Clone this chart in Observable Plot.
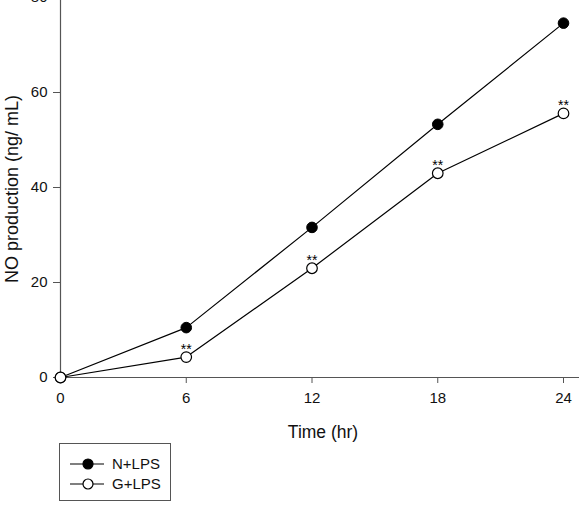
<!DOCTYPE html>
<html>
<head>
<meta charset="utf-8">
<script src="https://cdn.jsdelivr.net/npm/d3@7"></script>
<script src="https://cdn.jsdelivr.net/npm/@observablehq/plot@0.6"></script>
<style>
  html, body { margin: 0; padding: 0; background: white; }
  #wrap { position: relative; width: 579px; height: 507px; font-family: "Liberation Sans", Arial, sans-serif; }
  #legend { position: absolute; left: 59px; top: 443px; width: 110px; height: 56px; border: 1px solid #555; background: white; }
  .row { position: absolute; left: 0; height: 20px; width: 110px; }
  .row svg { position: absolute; left: 0; top: 0; }
  .row span { position: absolute; left: 52px; top: 1px; font-size: 15px; color: #111; line-height: 18px; }
</style>
</head>
<body>
<div id="wrap"><div id="chart"></div><div id="legend"></div></div>
<script>
// Data
const times = [0, 6, 12, 18, 24];
const nLps = [0, 10.5, 31.6, 53.3, 74.6];
const gLps = [0, 4.3, 23.0, 43.0, 55.6];
const nErr = [0, 0.5, 0.6, 0.5, 0.9];
const gErr = [0, 0.5, 0.6, 0.5, 0.6];
const gStars = ["", "**", "**", "**", "**"];
const seriesNames = ["N+LPS", "G+LPS"];
const seriesFill = ["black", "white"];
const xTicks = [0, 6, 12, 18, 24];
const yTicks = [0, 20, 40, 60, 80];

const nData = times.map((t, i) => ({t, v: nLps[i], e: nErr[i]}));
const gData = times.map((t, i) => ({t, v: gLps[i], e: gErr[i], s: gStars[i]}));

const plot = Plot.plot({
  width: 579,
  height: 443,
  marginLeft: 60,
  marginRight: 0,
  marginTop: 0,
  marginBottom: 66,
  x: {domain: [0, 24], range: [60, 563]},
  y: {domain: [0, 80], range: [377, -3]},
  style: {fontFamily: "'Liberation Sans', Arial, sans-serif", fontSize: "15px", background: "white", color: "#111"},
  marks: [
    Plot.ruleY([0], {stroke: "#555", strokeWidth: 1.2}),
    Plot.ruleX([0], {stroke: "#555", strokeWidth: 1.2}),
    Plot.axisY({ticks: yTicks, tickSize: 7, tickPadding: 6, label: null, stroke: "#555", fontSize: 15}),
    Plot.axisX({ticks: xTicks, tickSize: 6, tickPadding: 9, label: null, stroke: "#555", fontSize: 15}),
    Plot.text(["Time (hr)"], {frameAnchor: "bottom", textAnchor: "middle", lineAnchor: "middle", dx: 3, dy: 55, fontSize: 17.5, fill: "#111"}),
    Plot.text(["NO production (ng/ mL)"], {frameAnchor: "left", textAnchor: "middle", lineAnchor: "middle", rotate: -90, dx: -48, fontSize: 18, fill: "#111"}),
    Plot.line(nData, {x: "t", y: "v", stroke: "black", strokeWidth: 1.2}),
    Plot.line(gData, {x: "t", y: "v", stroke: "black", strokeWidth: 1.2}),
    Plot.ruleX(nData, {x: "t", y1: d => d.v - d.e, y2: d => d.v + d.e, stroke: "black"}),
    Plot.ruleX(gData, {x: "t", y1: d => d.v - d.e, y2: d => d.v + d.e, stroke: "black"}),
    Plot.dot(nData, {x: "t", y: "v", r: 5.3, fill: "black", stroke: "black", strokeWidth: 1}),
    Plot.dot(gData, {x: "t", y: "v", r: 5.3, fill: "white", stroke: "black", strokeWidth: 1.2}),
    Plot.text(gData, {x: "t", y: "v", text: "s", dy: -8, fontSize: 14, fill: "black"})
  ]
});
document.getElementById("chart").appendChild(plot);

// Legend
const legend = document.getElementById("legend");
seriesNames.forEach((name, i) => {
  const row = document.createElement("div");
  row.className = "row";
  row.style.top = (10 + i * 20) + "px";
  row.innerHTML = `<svg width="50" height="20"><line x1="10" x2="44" y1="10" y2="10" stroke="black" stroke-width="1.2"/><circle cx="28" cy="10" r="5" fill="${seriesFill[i]}" stroke="black" stroke-width="1.2"/></svg><span>${name}</span>`;
  legend.appendChild(row);
});
</script>
</body>
</html>
